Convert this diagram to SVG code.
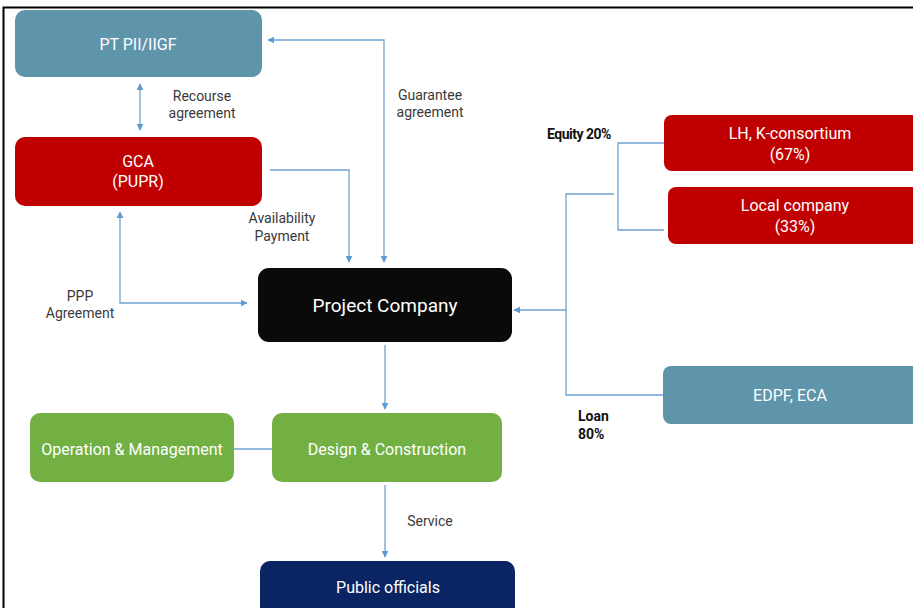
<svg xmlns="http://www.w3.org/2000/svg" width="913" height="608" viewBox="0 0 913 608">
<defs>
<marker id="ah" viewBox="0 0 10 10" refX="9" refY="5" markerWidth="7" markerHeight="7" markerUnits="userSpaceOnUse" orient="auto-start-reverse">
<path d="M0,0 L10,5 L0,10 z" fill="#5b9bd5"/>
</marker>
<style>
.n text{font-family:"Roboto","Liberation Sans",sans-serif;fill:#fff;text-anchor:middle;font-size:16px}
.lbl{font-family:"Roboto","Liberation Sans",sans-serif;fill:#3a3a3a;font-size:14px;text-anchor:middle}
.blbl{font-family:"Roboto","Liberation Sans",sans-serif;fill:#111;font-size:14px;font-weight:bold}
.c path{fill:none;stroke:#6fa3d2;stroke-width:1.3}
.teal{fill:#5e95aa}.red{fill:#c00000}.green{fill:#72b043}
</style>
</defs>
<rect width="913" height="608" fill="#fff"/>
<path d="M3.5,608 V7.5 H913" fill="none" stroke="#000" stroke-width="2"/>
<g class="c">
<path d="M140,84 V130" marker-start="url(#ah)" marker-end="url(#ah)"/>
<path d="M384,262 V40 H268" marker-start="url(#ah)" marker-end="url(#ah)"/>
<path d="M270,170 H349 V262" marker-end="url(#ah)"/>
<path d="M120,212 V303 H247" marker-start="url(#ah)" marker-end="url(#ah)"/>
<path d="M664,143 H618 V230 H664"/>
<path d="M614,194 H566 V395 H663"/>
<path d="M566,310 H514" marker-end="url(#ah)"/>
<path d="M385,345 V409" marker-end="url(#ah)"/>
<path d="M234,449 H272"/>
<path d="M385,485 V557" marker-end="url(#ah)"/>
</g>
<g class="n" id="ptpii"><rect class="teal" x="15" y="10" width="247" height="67" rx="10"/><text x="138" y="50">PT PII/IIGF</text></g>
<g class="n" id="gca"><rect class="red" x="15" y="137" width="247" height="69" rx="10"/><text x="138" y="167">GCA</text><text x="138" y="187">(PUPR)</text></g>
<g class="n" id="project"><rect fill="#0a0a0a" x="258" y="268" width="254" height="74" rx="11"/><text x="385" y="312" style="font-size:19px">Project Company</text></g>
<g class="n" id="lh"><rect class="red" x="664" y="115" width="260" height="56" rx="8"/><text x="790" y="139">LH, K-consortium</text><text x="790" y="160">(67%)</text></g>
<g class="n" id="local"><rect class="red" x="668" y="187" width="256" height="57" rx="8"/><text x="795" y="211">Local company</text><text x="795" y="232">(33%)</text></g>
<g class="n" id="edpf"><rect class="teal" x="663" y="366" width="260" height="58" rx="8"/><text x="790" y="401">EDPF, ECA</text></g>
<g class="n" id="om"><rect class="green" x="30" y="413" width="204" height="69" rx="10"/><text x="132" y="455">Operation &amp; Management</text></g>
<g class="n" id="dc"><rect class="green" x="272" y="413" width="230" height="69" rx="10"/><text x="387" y="455">Design &amp; Construction</text></g>
<g class="n" id="public"><rect fill="#0b2463" x="260" y="561" width="255" height="60" rx="10"/><text x="388" y="593">Public officials</text></g>
<g id="labels">
<text class="lbl" x="202" y="101">Recourse</text><text class="lbl" x="202" y="118">agreement</text>
<text class="lbl" x="430" y="100">Guarantee</text><text class="lbl" x="430" y="117">agreement</text>
<text class="lbl" x="282" y="223">Availability</text><text class="lbl" x="282" y="241">Payment</text>
<text class="lbl" x="80" y="301">PPP</text><text class="lbl" x="80" y="318">Agreement</text>
<text class="lbl" x="430" y="526">Service</text>
<text class="blbl" x="547" y="139" style="letter-spacing:-0.5px">Equity 20%</text>
<text class="blbl" x="578" y="421">Loan</text><text class="blbl" x="578" y="439">80%</text>
</g>
</svg>
